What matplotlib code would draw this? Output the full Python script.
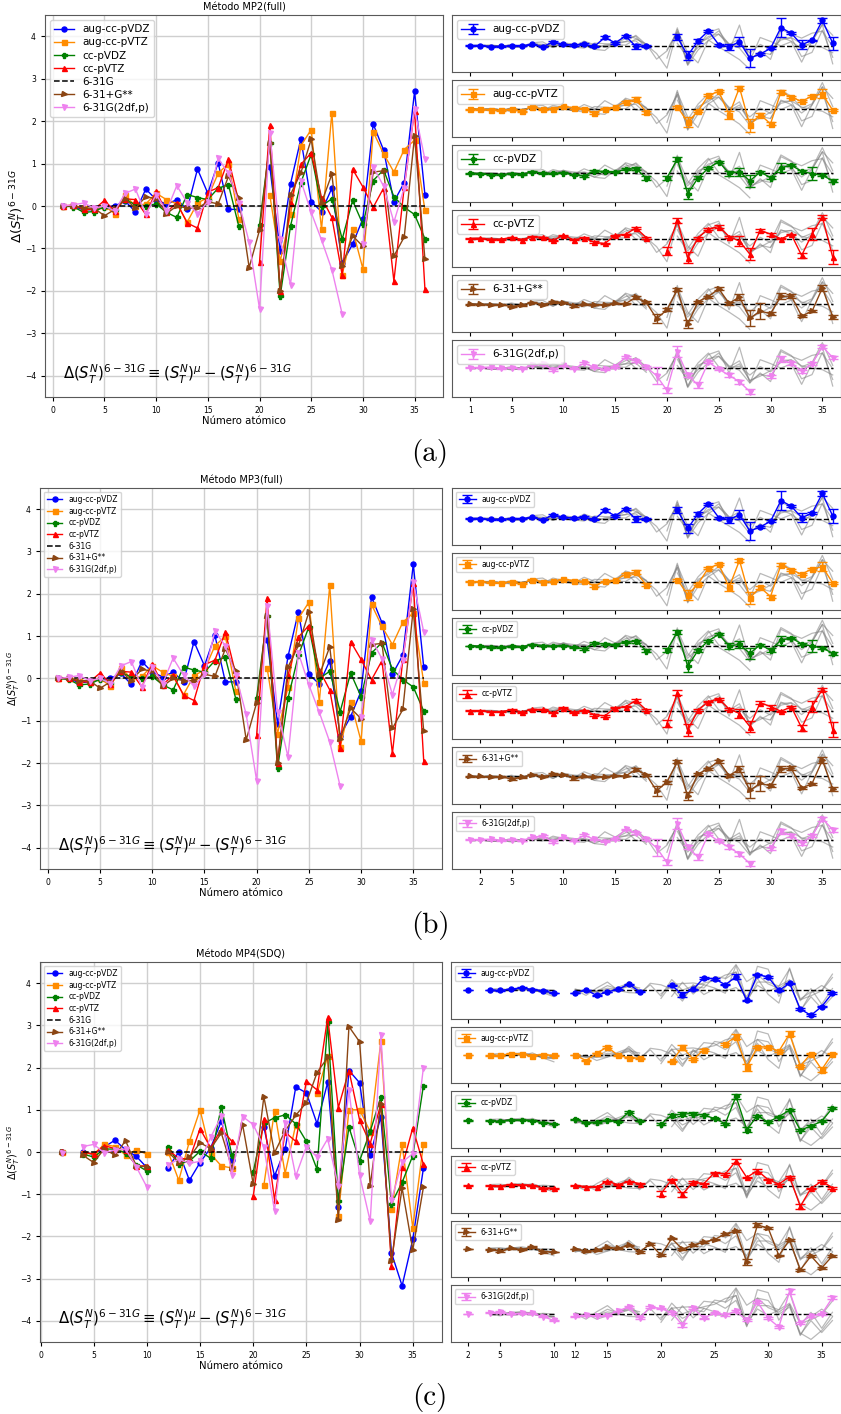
import numpy as np
import matplotlib
matplotlib.use('Agg')
import matplotlib.pyplot as plt

nan = np.nan

# atomic numbers H..Kr
Z = np.arange(1, 37)

basis_names = ['aug-cc-pVDZ', 'aug-cc-pVTZ', 'cc-pVDZ', 'cc-pVTZ',
               '6-31G', '6-31+G**', '6-31G(2df,p)']

# ---- MP2(full): Delta S_T^N relative to 6-31G ----
mp2_augdz = [0.0, 0.0, -0.10, -0.08, -0.02, 0.0, 0.12, -0.14, 0.40, 0.15, 0.04, 0.15,
             -0.08, 0.87, 0.30, 1.02, -0.08, -0.08, nan, nan, 0.92, -1.07, 0.52, 1.58,
             0.10, -0.13, 0.42, -1.35, -0.90, -0.30, 1.93, 1.32, 0.10, 0.55, 2.70, 0.27]
mp2_augtz = [0.0, 0.02, -0.05, -0.08, 0.0, -0.18, 0.25, 0.0, 0.05, 0.30, 0.15, 0.05,
             -0.38, 0.07, 0.20, 0.77, 1.00, -0.30, nan, nan, 0.25, -1.30, -0.20, 1.42,
             1.80, -0.55, 2.20, -1.62, -0.55, -1.48, 1.75, 1.23, 0.80, 1.33, 1.55, -0.10]
mp2_ccdz = [0.0, -0.02, -0.15, -0.13, -0.02, -0.10, 0.15, 0.03, 0.0, 0.05, -0.15, -0.27,
            0.27, 0.20, 0.15, 0.42, 0.50, -0.48, nan, -0.45, 1.48, -2.12, -0.47, 0.55,
            1.22, 0.0, 0.17, -0.78, 0.13, -0.43, 0.60, 0.85, 0.22, -0.03, -0.20, -0.77]
mp2_cctz = [0.0, 0.02, -0.08, -0.08, 0.13, -0.12, 0.17, 0.15, -0.20, 0.35, -0.15, 0.08,
            -0.40, -0.52, 0.33, 0.43, 1.10, 0.10, nan, -1.33, 1.90, -2.00, 0.08, 0.98,
            1.25, 0.20, -0.27, -1.63, 0.87, 0.45, -0.03, 0.42, -1.77, 0.45, 2.25, -1.95]
mp2_631g = [0.0, 0.0, 0.0, 0.0, 0.0, 0.0, 0.0, 0.0, 0.0, 0.0, 0.0, 0.0,
            0.0, 0.0, 0.0, 0.0, 0.0, 0.0, 0.0, 0.0, 0.0, 0.0, 0.0, 0.0,
            0.0, 0.0, 0.0, 0.0, 0.0, 0.0, 0.0, 0.0, 0.0, 0.0, 0.0, 0.0]
mp2_631pg = [0.0, 0.0, -0.05, -0.05, -0.23, -0.08, 0.17, -0.05, 0.22, 0.17, -0.18, 0.0,
             -0.05, -0.05, 0.10, 0.05, 0.70, 0.18, -1.45, -0.57, 1.48, -2.00, 0.27, 0.78,
             1.57, 0.08, 0.75, -1.42, -0.70, -0.95, 0.80, 0.83, -1.18, -0.73, 1.65, -1.25]
mp2_2df = [0.0, 0.03, 0.07, -0.05, 0.0, -0.12, 0.30, 0.40, -0.20, 0.27, -0.12, 0.48,
           0.08, -0.18, 0.10, 1.12, 0.77, 0.08, -0.85, -2.42, 1.72, -0.78, -1.85, 0.60,
           -0.15, -0.80, -1.50, -2.55, nan, -0.90, 0.92, 0.47, -0.38, 0.43, 2.28, 1.10]

# uncertainties (same order)
mp2_err_augdz = [0.05, 0.05, 0.05, 0.05, 0.05, 0.05, 0.05, 0.05, 0.10, 0.05, 0.08, 0.10,
                 0.05, 0.12, 0.10, 0.10, 0.30, 0.10, nan, nan, 0.30, 0.45, 0.20, 0.10,
                 0.10, 0.30, 0.50, 0.95, 0.10, 0.10, 1.00, 0.10, 0.45, 0.10, 0.30, 0.70]
mp2_err_augtz = [0.05, 0.05, 0.05, 0.05, 0.05, 0.05, 0.05, 0.05, 0.05, 0.05, 0.10, 0.05,
                 0.15, 0.05, 0.05, 0.10, 0.20, 0.15, nan, nan, 0.10, 0.50, 0.10, 0.10,
                 0.10, 0.40, 0.15, 0.65, 0.15, 0.15, 0.15, 0.10, 0.10, 0.10, 0.45, 0.10]
mp2_err_ccdz = [0.05, 0.05, 0.05, 0.05, 0.05, 0.05, 0.05, 0.05, 0.05, 0.05, 0.05, 0.10,
                0.10, 0.10, 0.05, 0.10, 0.15, 0.20, nan, 0.20, 0.20, 0.60, 0.15, 0.10,
                0.10, 0.30, 0.40, 0.60, 0.10, 0.20, 0.50, 0.10, 0.10, 0.65, 0.10, 0.15]
mp2_err_cctz = [0.05, 0.05, 0.05, 0.05, 0.05, 0.05, 0.05, 0.05, 0.05, 0.05, 0.05, 0.05,
                0.10, 0.10, 0.05, 0.05, 0.15, 0.10, nan, 0.40, 0.25, 0.60, 0.10, 0.10,
                0.15, 0.10, 0.50, 0.60, 0.15, 0.15, 0.05, 0.10, 0.30, 0.60, 0.15, 0.75]
mp2_err_631pg = [0.05, 0.05, 0.05, 0.05, 0.10, 0.05, 0.05, 0.05, 0.10, 0.05, 0.15, 0.05,
                 0.05, 0.05, 0.05, 0.05, 0.15, 0.10, 0.50, 0.15, 0.15, 0.40, 0.10, 0.10,
                 0.15, 0.15, 0.30, 0.80, 0.80, 0.15, 0.30, 0.20, 0.10, 0.10, 0.30, 0.20]
mp2_err_2df = [0.05, 0.05, 0.05, 0.05, 0.05, 0.05, 0.05, 0.10, 0.10, 0.05, 0.05, 0.10,
               0.05, 0.05, 0.10, 0.10, 0.10, 0.10, 0.90, 0.30, 0.60, 0.20, 0.30, 0.10,
               0.10, 0.20, 0.20, 0.30, nan, 0.15, 0.30, 0.15, 0.15, 0.15, 0.20, 0.20]

# ---- MP4(SDQ) ----
mp4_augdz = [nan, 0.0, nan, 0.0, -0.06, 0.12, 0.28, 0.05, -0.10, -0.37, nan, -0.37,
             0.0, -0.67, -0.25, 0.10, 0.73, -0.20, nan, nan, 0.59, -0.57, 0.07, 1.54,
             1.40, 0.67, 1.65, -1.30, 1.93, 1.64, -0.06, 0.83, -2.39, -3.17, -2.07, -0.39]
mp4_augtz = [nan, 0.0, nan, -0.02, -0.05, 0.18, 0.13, -0.07, 0.05, -0.05, nan, 0.0,
             -0.67, 0.25, 1.00, -0.05, -0.33, -0.38, nan, nan, -0.79, 0.98, -0.51, 0.65,
             nan, 1.39, 2.27, -1.51, 1.00, 1.00, 0.48, 2.62, -1.35, 0.18, -1.79, 0.18]
mp4_ccdz = [nan, 0.0, nan, -0.05, -0.12, 0.07, 0.07, -0.02, -0.30, -0.45, nan, 0.13,
            -0.28, -0.22, 0.02, -0.15, 1.07, -0.08, nan, -0.47, 0.68, 0.81, 0.88, 0.67,
            0.25, -0.41, 3.07, -1.16, 0.59, -0.21, 0.49, 1.30, -1.22, -0.72, -0.09, 1.57]
mp4_cctz = [nan, 0.03, nan, 0.0, -0.05, 0.15, 0.08, 0.05, -0.33, -0.33, nan, 0.05,
            -0.15, -0.17, 0.55, 0.10, 0.55, 0.25, nan, -1.05, 0.78, -1.13, 0.47, 0.25,
            1.68, 1.47, 3.19, 1.05, 1.93, 0.76, 0.20, 1.14, -2.69, -0.35, 0.57, -0.29]
mp4_631g = [nan, 0.0, nan, 0.0, 0.0, 0.0, 0.0, 0.0, 0.0, 0.0, nan, 0.0,
            0.0, 0.0, 0.0, 0.0, 0.0, 0.0, 0.0, 0.0, 0.0, 0.0, 0.0, 0.0,
            0.0, 0.0, 0.0, 0.0, 0.0, 0.0, 0.0, 0.0, 0.0, 0.0, 0.0, 0.0]
mp4_631pg = [nan, 0.0, nan, -0.08, -0.25, 0.08, -0.08, 0.27, -0.33, -0.35, nan, 0.0,
             -0.25, -0.13, 0.22, 0.08, 0.45, -0.38, 0.65, -0.76, 1.31, -0.02, 0.50, 0.87,
             1.17, 1.88, 2.24, -1.60, 2.97, 2.61, -0.80, 1.14, -2.57, -0.85, -2.32, -0.84]
mp4_2df = [nan, -0.03, nan, 0.13, 0.18, -0.02, 0.05, 0.07, -0.35, -0.83, nan, -0.30,
           -0.17, -0.27, -0.22, 0.35, 0.85, -0.54, 0.84, 0.65, 0.12, -1.39, 0.68, -0.57,
           0.13, -0.12, 0.31, -0.81, 1.46, -0.55, -1.64, 2.76, -1.13, -0.24, -0.04, 1.99]

mp4_err_augdz = [nan, 0.05, nan, 0.05, 0.05, 0.05, 0.05, 0.05, 0.05, 0.05, nan, 0.05,
                 0.05, 0.05, 0.05, 0.05, 0.05, 0.05, nan, nan, 0.10, 0.30, 0.10, 0.10,
                 0.10, 0.10, 0.30, 0.10, 0.10, 0.10, 0.05, 0.10, 0.10, 0.10, 0.10, 0.10]
mp4_err_augtz = [nan, 0.05, nan, 0.05, 0.05, 0.05, 0.05, 0.05, 0.05, 0.05, nan, 0.05,
                 0.05, 0.05, 0.10, 0.05, 0.05, 0.05, nan, nan, 0.10, 0.30, 0.10, 0.10,
                 nan, 0.10, 0.30, 0.40, 0.10, 0.10, 0.10, 0.30, 0.10, 0.10, 0.30, 0.10]
mp4_err_ccdz = [nan, 0.05, nan, 0.05, 0.05, 0.05, 0.05, 0.05, 0.05, 0.05, nan, 0.05,
                0.05, 0.05, 0.05, 0.05, 0.15, 0.05, nan, 0.15, 0.20, 0.20, 0.15, 0.10,
                0.10, 0.15, 0.30, 0.30, 0.10, 0.10, 0.10, 0.10, 0.10, 0.10, 0.10, 0.15]
mp4_err_cctz = [nan, 0.05, nan, 0.05, 0.05, 0.05, 0.05, 0.05, 0.05, 0.05, nan, 0.05,
                0.05, 0.05, 0.10, 0.05, 0.10, 0.05, nan, 0.30, 0.10, 0.30, 0.10, 0.10,
                0.10, 0.10, 0.30, 0.10, 0.15, 0.05, 0.05, 0.10, 0.30, 0.10, 0.10, 0.10]
mp4_err_631pg = [nan, 0.05, nan, 0.05, 0.10, 0.05, 0.05, 0.05, 0.10, 0.05, nan, 0.05,
                 0.05, 0.05, 0.05, 0.05, 0.10, 0.10, 0.10, 0.15, 0.10, 0.10, 0.10, 0.10,
                 0.10, 0.15, 0.15, 0.35, 0.20, 0.10, 0.10, 0.10, 0.10, 0.15, 0.15, 0.10]
mp4_err_2df = [nan, 0.05, nan, 0.05, 0.10, 0.05, 0.05, 0.05, 0.05, 0.10, nan, 0.05,
               0.05, 0.05, 0.05, 0.05, 0.10, 0.10, 0.10, 0.10, 0.10, 0.30, 0.10, 0.10,
               0.10, 0.10, 0.15, 0.10, 0.15, 0.10, 0.15, 0.30, 0.15, 0.10, 0.10, 0.15]

# MP3(full) comes out with the very same numbers as MP2(full)
mp3_augdz, mp3_augtz, mp3_ccdz, mp3_cctz = mp2_augdz, mp2_augtz, mp2_ccdz, mp2_cctz
mp3_631g, mp3_631pg, mp3_2df = mp2_631g, mp2_631pg, mp2_2df
mp3_err_augdz, mp3_err_augtz, mp3_err_ccdz = mp2_err_augdz, mp2_err_augtz, mp2_err_ccdz
mp3_err_cctz, mp3_err_631pg, mp3_err_2df = mp2_err_cctz, mp2_err_631pg, mp2_err_2df

colors = ['blue', 'darkorange', 'green', 'red', 'k', 'saddlebrown', 'violet']
markers = ['o', 's', 'P', '^', None, '>', 'v']

formula = r'$\Delta(S_T^N)^{6-31G} \equiv (S_T^N)^{\mu} - (S_T^N)^{6-31G}$'
W, H = 841, 1414


def px_rect(x0, y0, x1, y1):
    # pixel box (top-left origin) -> figure fraction rect
    return [x0 / W, 1 - y1 / H, (x1 - x0) / W, (y1 - y0) / H]


def draw_method(fig, title, series, errors, main_box, panel_box, main_xlim,
                panel_xlim, panel_ticks, big=False):
    ax = fig.add_axes(px_rect(*main_box))
    for i, name in enumerate(basis_names):
        y = np.array(series[i], dtype=float)
        if name == '6-31G':
            ax.plot(Z, y, 'k--', lw=1.1, label=name)
        else:
            ax.plot(Z, y, color=colors[i], marker=markers[i], ms=3.6, lw=1,
                    label=name)
    ax.set_xlim(*main_xlim)
    ax.set_ylim(-4.5, 4.5)
    ax.grid(True, color='#cfcfcf', lw=1)
    ax.tick_params(labelsize=5.5, length=3)
    ax.set_title(title, fontsize=7, pad=3)
    ax.set_xlabel('Número atómico', fontsize=7.3, labelpad=1)
    ax.set_ylabel(r'$\Delta(S_T^N)^{6-31G}$', fontsize=9.5 if big else 7)
    ax.yaxis.set_label_coords(-0.04 if big else -0.045, 0.5)
    if big:
        ax.legend(loc='upper left', fontsize=7.5, handlelength=1.9,
                  borderpad=0.4, labelspacing=0.3)
    else:
        ax.legend(loc='upper left', fontsize=5.5, handlelength=2.0,
                  borderpad=0.4, labelspacing=0.35)
    ax.text(0.045, 0.045, formula, transform=ax.transAxes, fontsize=10.7)
    for s in ax.spines.values():
        s.set_color('0.35')

    # one small panel per basis set, the others shown in gray behind it
    x0, y0, x1, y1 = panel_box
    ph = (y1 - y0 - 5 * 8) / 6.0
    others = [k for k in range(len(basis_names)) if basis_names[k] != '6-31G']
    ref = basis_names.index('6-31G')
    first = None
    for n, i in enumerate(others):
        top = y0 + n * (ph + 8)
        sax = fig.add_axes(px_rect(x0, top, x1, top + ph),
                           sharex=first)
        if first is None:
            first = sax
        for k in others:
            if k != i:
                sax.plot(Z, np.array(series[k], dtype=float), color='gray',
                         alpha=0.55, lw=0.9)
        sax.plot(Z, np.array(series[ref], dtype=float), 'k--', lw=1)
        sax.errorbar(Z, np.array(series[i], dtype=float),
                     yerr=np.array(errors[i], dtype=float), color=colors[i],
                     marker=markers[i], ms=3.6, lw=1, capsize=3.5,
                     label=basis_names[i])
        sax.set_yticks([])
        sax.set_xticks(panel_ticks)
        sax.tick_params(labelsize=5.5, length=3)
        sax.legend(loc='upper left', fontsize=7.5 if big else 5.5,
                   handlelength=2.2, borderpad=0.4)
        if n < len(others) - 1:
            sax.tick_params(labelbottom=False)
        for s in sax.spines.values():
            s.set_color('0.35')
    first.set_xlim(*panel_xlim)


fig = plt.figure(figsize=(W / 100, H / 100), dpi=100)

draw_method(fig, 'Método MP2(full)',
            [mp2_augdz, mp2_augtz, mp2_ccdz, mp2_cctz, mp2_631g, mp2_631pg, mp2_2df],
            [mp2_err_augdz, mp2_err_augtz, mp2_err_ccdz, mp2_err_cctz, None,
             mp2_err_631pg, mp2_err_2df],
            (45, 15, 443, 397), (452, 15, 841, 397),
            (-0.75, 37.75), (-0.75, 36.8), [1, 5, 10, 15, 20, 25, 30, 35], big=True)

draw_method(fig, 'Método MP3(full)',
            [mp3_augdz, mp3_augtz, mp3_ccdz, mp3_cctz, mp3_631g, mp3_631pg, mp3_2df],
            [mp3_err_augdz, mp3_err_augtz, mp3_err_ccdz, mp3_err_cctz, None,
             mp3_err_631pg, mp3_err_2df],
            (40, 488, 442, 869), (452, 488, 841, 869),
            (-0.75, 37.75), (-0.75, 36.8), [2, 5, 10, 15, 20, 25, 30, 35])

draw_method(fig, 'Método MP4(SDQ)',
            [mp4_augdz, mp4_augtz, mp4_ccdz, mp4_cctz, mp4_631g, mp4_631pg, mp4_2df],
            [mp4_err_augdz, mp4_err_augtz, mp4_err_ccdz, mp4_err_cctz, None,
             mp4_err_631pg, mp4_err_2df],
            (40, 962, 442, 1342), (451, 962, 841, 1342),
            (-0.05, 37.75), (0.4, 36.8), [2, 5, 10, 12, 15, 20, 25, 30, 35])

# sub-figure tags in Computer Modern
for lab, ypx in [('(a)', 453), ('(b)', 926), ('(c)', 1398)]:
    fig.text(430 / W, 1 - ypx / H, lab, ha='center', va='center',
             fontsize=21, family=['cmr10', 'DejaVu Serif'])

fig.savefig('out.png', dpi=100)
